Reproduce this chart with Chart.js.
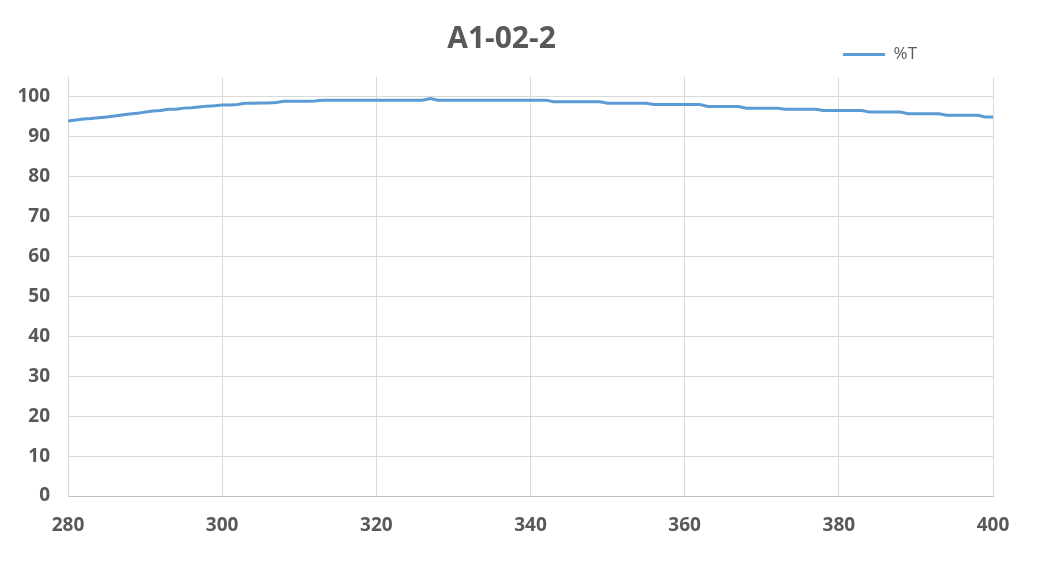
<!DOCTYPE html>
<html>
<head>
<meta charset="utf-8">
<script src="https://cdn.jsdelivr.net/npm/chart.js@4/dist/chart.umd.min.js"></script>
<style>
  html, body { margin: 0; padding: 0; background: #fff; }
  #wrap { width: 1040px; height: 572px; }
</style>
</head>
<body>
<div id="wrap"><canvas id="chart"></canvas></div>
<script>
// wavelength (nm)
const wavelengths = [
    280, 281, 282, 283, 284, 285, 286, 287, 288, 289,
    290, 291, 292, 293, 294, 295, 296, 297, 298, 299,
    300, 301, 302, 303, 304, 305, 306, 307, 308, 309,
    310, 311, 312, 313, 314, 315, 316, 317, 318, 319,
    320, 321, 322, 323, 324, 325, 326, 327, 328, 329,
    330, 331, 332, 333, 334, 335, 336, 337, 338, 339,
    340, 341, 342, 343, 344, 345, 346, 347, 348, 349,
    350, 351, 352, 353, 354, 355, 356, 357, 358, 359,
    360, 361, 362, 363, 364, 365, 366, 367, 368, 369,
    370, 371, 372, 373, 374, 375, 376, 377, 378, 379,
    380, 381, 382, 383, 384, 385, 386, 387, 388, 389,
    390, 391, 392, 393, 394, 395, 396, 397, 398, 399,
    400
];

// %T
const transmittance = [
    94.0, 94.2, 94.5, 94.6, 94.8, 95.0, 95.2, 95.5, 95.7, 95.9,
    96.2, 96.5, 96.6, 96.9, 96.9, 97.2, 97.3, 97.5, 97.7, 97.8,
    98.0, 98.0, 98.1, 98.4, 98.4, 98.5, 98.5, 98.6, 98.9, 98.9,
    98.9, 98.9, 99.0, 99.2, 99.2, 99.2, 99.2, 99.2, 99.2, 99.2,
    99.2, 99.2, 99.2, 99.2, 99.2, 99.2, 99.2, 99.6, 99.2, 99.2,
    99.2, 99.2, 99.2, 99.2, 99.2, 99.2, 99.2, 99.2, 99.2, 99.2,
    99.2, 99.2, 99.2, 98.8, 98.8, 98.8, 98.8, 98.8, 98.8, 98.8,
    98.4, 98.4, 98.4, 98.4, 98.4, 98.4, 98.1, 98.1, 98.1, 98.1,
    98.1, 98.1, 98.1, 97.6, 97.6, 97.6, 97.6, 97.6, 97.2, 97.2,
    97.2, 97.2, 97.2, 96.9, 96.9, 96.9, 96.9, 96.9, 96.6, 96.6,
    96.6, 96.6, 96.6, 96.6, 96.2, 96.2, 96.2, 96.2, 96.2, 95.8,
    95.8, 95.8, 95.8, 95.8, 95.4, 95.4, 95.4, 95.4, 95.4, 95.0,
    95.0
];

const xTicks = [280, 300, 320, 340, 360, 380, 400];
const yTicks = [0, 10, 20, 30, 40, 50, 60, 70, 80, 90, 100];

const textGrey = '#595959';
const gridGrey = '#d9d9d9';

// move legend up/left and nudge title, like the excel layout
const shiftBoxes = {
    id: 'shiftBoxes',
    afterLayout(chart) {
        chart.legend.left -= 70;
        chart.legend.right -= 70;
        chart.legend.top -= 4;
        chart.legend.bottom -= 4;
        chart.titleBlock.left += 5;
        chart.titleBlock.right += 5;
    },
};

const ctx = document.getElementById('chart').getContext('2d');
const chart = new Chart(ctx, {
    type: 'line',
    data: {
        datasets: [{
            label: '%T',
            data: wavelengths.map((w, i) => ({ x: w, y: transmittance[i] })),
            borderColor: '#5b9bd5',
            backgroundColor: '#5b9bd5',
            borderWidth: 3,
            pointRadius: 0,
            fill: false,
            tension: 0,
        }],
    },
    options: {
        responsive: true,
        maintainAspectRatio: false,
        animation: false,
        layout: {
            padding: { left: 0, right: 47, top: 0, bottom: 0 },
        },
        plugins: {
            title: {
                display: true,
                text: 'A1-02-2',
                color: textGrey,
                font: { family: 'Open Sans', size: 30, weight: 'bold' },
                padding: { top: 21, bottom: -13 },
            },
            legend: {
                display: true,
                position: 'top',
                align: 'end',
                labels: {
                    color: textGrey,
                    font: { family: 'Open Sans', size: 17 },
                    usePointStyle: true,
                    pointStyle: 'line',
                    pointStyleWidth: 42,
                    boxWidth: 42,
                    padding: 6,
                },
            },
            tooltip: { enabled: false },
        },
        scales: {
            x: {
                type: 'linear',
                min: 280,
                max: 400,
                afterBuildTicks: scale => {
                    scale.ticks = xTicks.map(v => ({ value: v }));
                },
                afterFit: scale => { scale.height = 76; },
                grid: { color: gridGrey, lineWidth: 1, drawTicks: false },
                border: { color: '#bfbfbf', width: 1 },
                ticks: {
                    color: textGrey,
                    font: { family: 'Open Sans', size: 19, weight: 'bold' },
                    padding: 18,
                    maxRotation: 0,
                },
            },
            y: {
                min: 0,
                max: 105,
                afterBuildTicks: scale => {
                    scale.ticks = yTicks.map(v => ({ value: v }));
                },
                afterFit: scale => { scale.width = 68; },
                grid: { color: gridGrey, lineWidth: 1, drawTicks: false },
                border: { color: gridGrey, width: 1 },
                ticks: {
                    color: textGrey,
                    font: { family: 'Open Sans', size: 19, weight: 'bold' },
                    padding: 18,
                },
            },
        },
    },
    plugins: [shiftBoxes],
});
</script>
</body>
</html>
